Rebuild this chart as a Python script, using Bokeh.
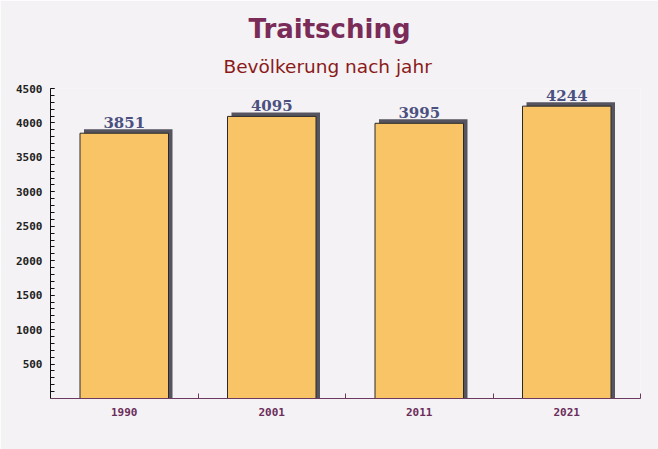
import numpy as np
from bokeh.plotting import figure
from bokeh.models import Range1d, FixedTicker, Title, ColumnDataSource
from bokeh.core.properties import value
from bokeh.embed import file_html
from bokeh.resources import INLINE

# ---- data ----
years = ["1990", "2001", "2011", "2021"]
population = [3851, 4095, 3995, 4244]
y_ticks = [500, 1000, 1500, 2000, 2500, 3000, 3500, 4000, 4500]
y_minor = list(range(100, 4600, 100))

title_text = "Traitsching"
subtitle_text = "Bevölkerung nach jahr"

# ---- layout constants ----
W, H = 658, 449
FL, FT, FR, FB = 50, 88, 18, 51
frame_w = W - FL - FR
frame_h = H - FT - FB
YMAX = 4500
n = len(years)

bg = "#f4f2f4"

p = figure(width=W, height=H, output_backend="svg", toolbar_location=None,
           x_range=Range1d(0, n), y_range=Range1d(0, YMAX),
           min_border_left=FL, min_border_right=FR, min_border_top=FT, min_border_bottom=FB,
           background_fill_color=bg, border_fill_color=bg)
p.outline_line_color = None
p.grid.visible = False

xc = np.arange(n) + 0.5
bw = 0.6
dx = 4 * n / frame_w        # 4 px in data units
dy = 4 * YMAX / frame_h     # 4 px in data units
dl = 11 * YMAX / frame_h    # label gap

pop = np.array(population)
src = ColumnDataSource(dict(
    x=xc, top=pop, label=[str(v) for v in population],
    xs=xc + dx, tops=pop + dy, ly=pop + dl,
))

# 3D shadow
p.vbar(x="xs", top="tops", bottom=0, width=bw, source=src,
       fill_color="#56555f", line_color=None)
# bars
p.vbar(x="x", top="top", bottom=0, width=bw, source=src,
       fill_color="#f9c466", line_color="#2a2a2a", line_width=1)

# value labels
p.text(x="x", y="ly", text="label", source=src, text_align="center",
       text_baseline="middle",
       text_font=value("DejaVu Serif"), text_font_style="bold",
       text_font_size="15px", text_color="#4a5080")

# ---- axes ----
yax = p.yaxis[0]
yax.ticker = FixedTicker(ticks=y_ticks, minor_ticks=y_minor)
yax.axis_line_color = "#111111"
yax.major_tick_line_color = "#111111"
yax.minor_tick_line_color = "#111111"
yax.major_tick_in = 4
yax.major_tick_out = 0
yax.minor_tick_in = 4
yax.minor_tick_out = 0
yax.major_label_standoff = 8
yax.major_label_text_font = "DejaVu Sans Mono"
yax.major_label_text_font_style = "bold"
yax.major_label_text_font_size = "11px"
yax.major_label_text_color = "#222222"

xax = p.xaxis[0]
xax.ticker = FixedTicker(ticks=list(xc), minor_ticks=list(np.arange(1, n + 1)))
xax.major_label_overrides = {float(x): y for x, y in zip(xc, years)}
xax.axis_line_color = "#6b3a5e"
xax.major_tick_line_color = None
xax.major_tick_in = 0
xax.major_tick_out = 0
xax.minor_tick_line_color = "#6b3a5e"
xax.minor_tick_in = 5
xax.minor_tick_out = 0
xax.major_label_standoff = 9
xax.major_label_text_font = "DejaVu Sans Mono"
xax.major_label_text_font_style = "bold"
xax.major_label_text_font_size = "11px"
xax.major_label_text_color = "#6b2d5b"

# ---- titles (first added sits closest to the frame) ----
p.add_layout(Title(text=subtitle_text, align="left", offset=173, standoff=23,
                   vertical_align="bottom",
                   text_font="DejaVu Sans", text_font_style="normal",
                   text_font_size="18.5px", text_color="#8b1a1a"), "above")
p.add_layout(Title(text=title_text, align="left", offset=198, standoff=-3,
                   vertical_align="bottom",
                   text_font="DejaVu Sans", text_font_style="bold",
                   text_font_size="26px", text_color="#7a2b58"), "above")

open("out.html", "w").write(file_html(p, INLINE))
